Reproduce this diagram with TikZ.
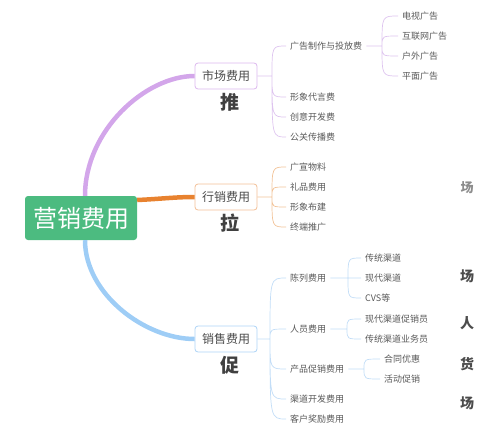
\documentclass[tikz,border=0pt]{standalone}
\usepackage{fontspec}
\setmainfont{Noto Sans CJK SC}
\usepackage{tikz}
\usetikzlibrary{positioning, calc}

\definecolor{rootgreen}{HTML}{4CBB80}
\definecolor{mktline}{HTML}{D3A6EA}
\definecolor{mkttwig}{HTML}{DEC4EF}
\definecolor{xline}{HTML}{E8822F}
\definecolor{xtwig}{HTML}{F2C398}
\definecolor{sline}{HTML}{9ECDF6}
\definecolor{stwig}{HTML}{C2DDF7}

\begin{document}
\begin{tikzpicture}[
  x=1pt, y=-1pt,
  root/.style={fill=rootgreen, rounded corners=3pt, minimum width=112pt, minimum height=44pt, text=white, font=\fontsize{24}{28}\selectfont},
  box/.style={draw, fill=white, rounded corners=3pt, minimum width=62pt, minimum height=26pt, line width=0.8pt, text=black!70, font=\fontsize{12}{14}\selectfont},
  leaf/.style={anchor=west, inner xsep=4pt, inner ysep=2pt, text=black!65, font=\fontsize{9}{11}\selectfont},
  tag/.style={font=\fontsize{19}{22}\selectfont\bfseries, text=black!75},
  side/.style={font=\fontsize{14}{16}\selectfont\bfseries, text=black!70},
  trunk/.style={line width=4.5pt},
  twig/.style={line width=0.7pt, to path={.. controls (\tikztostart |- \tikztotarget) .. (\tikztotarget)}},
]
\useasboundingbox (0,0) rectangle (498,442);

\node[root] (R) at (81,218) {营销费用};
\node[box, draw=mktline!80] (M) at (226,76)  {市场费用};
\node[box, draw=xline!50]   (X) at (226,197) {行销费用};
\node[box, draw=sline!85]   (S) at (226,339) {销售费用};

\node[tag, below=0pt] (Tm) at ([xshift=4pt]M.south) {推};
\node[tag, below=0pt] (Tx) at ([xshift=4pt]X.south) {拉};
\node[tag, below=0pt] (Ts) at ([xshift=4pt]S.south) {促};

\draw[trunk, mktline] ([xshift=4pt]R.north) .. controls (85,131) and (145,76) .. (M.west);
\draw[trunk, xline] ([yshift=18pt]R.east) .. controls (160,199) and (175,197) .. (X.west);
\draw[trunk, sline] ([xshift=4pt]R.south) .. controls (85,294) and (145,339) .. (S.west);

\node[leaf] (M1) at (286,46)  {广告制作与投放费};
\node[leaf] (M2) at (286,97)  {形象代言费};
\node[leaf] (M3) at (286,117) {创意开发费};
\node[leaf] (M4) at (286,137) {公关传播费};
\node[leaf] (M11) at (398,16) {电视广告};
\node[leaf] (M12) at (398,36) {互联网广告};
\node[leaf] (M13) at (398,56) {户外广告};
\node[leaf] (M14) at (398,76) {平面广告};
\coordinate (Mj) at (272,76);
\coordinate (M1j) at (382,46);
\draw[twig, mkttwig] (M.east) -- (Mj) (Mj) to (M1.west) (Mj) to (M2.west) (Mj) to (M3.west) (Mj) to (M4.west);
\draw[twig, mkttwig] (M1.east) -- (M1j) (M1j) to (M11.west) (M1j) to (M12.west) (M1j) to (M13.west) (M1j) to (M14.west);

\node[leaf] (X1) at (286,167) {广宣物料};
\node[leaf] (X2) at (286,187) {礼品费用};
\node[leaf] (X3) at (286,207) {形象布建};
\node[leaf] (X4) at (286,227) {终端推广};
\coordinate (Xj) at (272,197);
\draw[twig, xtwig] (X.east) -- (Xj) (Xj) to (X1.west) (Xj) to (X2.west) (Xj) to (X3.west) (Xj) to (X4.west);

\node[leaf] (S1) at (286,278) {陈列费用};
\node[leaf] (S2) at (286,329) {人员费用};
\node[leaf] (S3) at (286,369) {产品促销费用};
\node[leaf] (S4) at (286,399) {渠道开发费用};
\node[leaf] (S5) at (286,419) {客户奖励费用};
\node[leaf] (S11) at (361,258) {传统渠道};
\node[leaf] (S12) at (361,278) {现代渠道};
\node[leaf] (S13) at (361,298) {CVS等};
\node[leaf] (S21) at (361,319) {现代渠道促销员};
\node[leaf] (S22) at (361,339) {传统渠道业务员};
\node[leaf] (S31) at (380,359) {合同优惠};
\node[leaf] (S32) at (380,379) {活动促销};
\coordinate (Sj) at (270,339);
\coordinate (S1j) at (348,278);
\coordinate (S2j) at (347,329);
\coordinate (S3j) at (364,369);
\draw[twig, stwig] (S.east) -- (Sj) (Sj) to (S1.west) (Sj) to (S2.west) (Sj) to (S3.west) (Sj) to (S4.west) (Sj) to (S5.west);
\draw[twig, stwig] (S1.east) -- (S1j) (S1j) to (S11.west) (S1j) to (S12.west) (S1j) to (S13.west);
\draw[twig, stwig] (S2.east) -- (S2j) (S2j) to (S21.west) (S2j) to (S22.west);
\draw[twig, stwig] (S3.east) -- (S3j) (S3j) to (S31.west) (S3j) to (S32.west);

\node[side, font=\fontsize{13}{15}\selectfont\bfseries, text=black!45] (P1) at (467,188) {场};
\node[side] (P2) at (467,276) {场};
\node[side] (P3) at (467,323) {人};
\node[side] (P4) at (467,364) {货};
\node[side] (P5) at (467,403) {场};
\end{tikzpicture}
\end{document}
